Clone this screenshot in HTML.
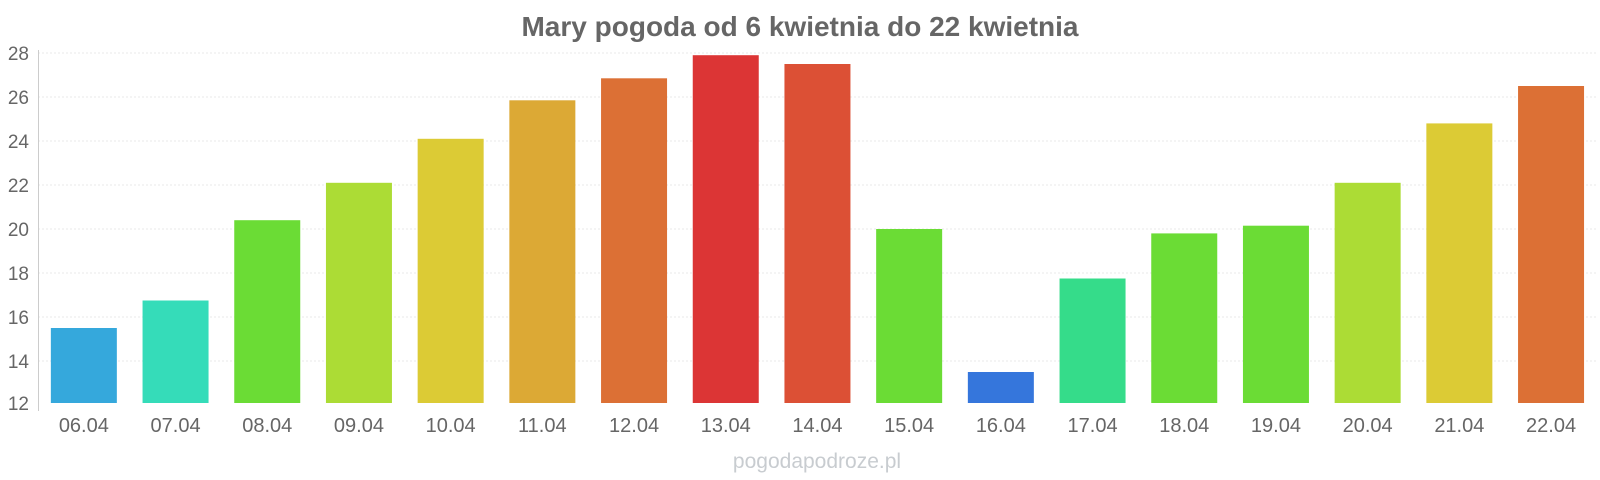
<!DOCTYPE html>
<html><head><meta charset="utf-8"><style>
html,body{margin:0;padding:0;background:#fff;}
svg{display:block;font-family:"Liberation Sans",Arial,sans-serif;}
</style></head><body>
<svg width="1600" height="480" viewBox="0 0 1600 480" xmlns="http://www.w3.org/2000/svg">
<text x="800" y="36" text-anchor="middle" font-size="28" font-weight="bold" fill="#666">Mary pogoda od 6 kwietnia do 22 kwietnia</text>
<g stroke="#e8e8e8" stroke-width="1" stroke-dasharray="2,2">
<line x1="38" x2="1597" y1="53" y2="53"/><line x1="38" x2="1597" y1="97" y2="97"/>
<line x1="38" x2="1597" y1="141" y2="141"/><line x1="38" x2="1597" y1="185" y2="185"/>
<line x1="38" x2="1597" y1="229" y2="229"/><line x1="38" x2="1597" y1="273" y2="273"/>
<line x1="38" x2="1597" y1="317" y2="317"/><line x1="38" x2="1597" y1="361" y2="361"/>
</g>
<g font-size="19" fill="#666" text-anchor="end">
<text x="29" y="60">28</text><text x="29" y="104">26</text><text x="29" y="148">24</text>
<text x="29" y="192">22</text><text x="29" y="236">20</text><text x="29" y="280">18</text>
<text x="29" y="324">16</text><text x="29" y="368">14</text><text x="29" y="410">12</text>
</g>
<g>
<rect x="50.85" y="328" width="66" height="75" fill="#35a8dc"/>
<rect x="142.55" y="300.5" width="66" height="102.5" fill="#35dcb9"/>
<rect x="234.25" y="220.2" width="66" height="182.8" fill="#6bdc35"/>
<rect x="325.95" y="182.8" width="66" height="220.2" fill="#acdc35"/>
<rect x="417.65" y="138.8" width="66" height="264.2" fill="#dccb35"/>
<rect x="509.35" y="100.3" width="66" height="302.7" fill="#dca935"/>
<rect x="601.05" y="78.3" width="66" height="324.7" fill="#dc7035"/>
<rect x="692.75" y="55.2" width="66" height="347.8" fill="#dc3535"/>
<rect x="784.45" y="64" width="66" height="339" fill="#dc5035"/>
<rect x="876.15" y="229" width="66" height="174" fill="#6bdc35"/>
<rect x="967.85" y="372" width="66" height="31" fill="#3576dc"/>
<rect x="1059.55" y="278.5" width="66" height="124.5" fill="#35dc8a"/>
<rect x="1151.25" y="233.4" width="66" height="169.6" fill="#6bdc35"/>
<rect x="1242.95" y="225.7" width="66" height="177.3" fill="#6bdc35"/>
<rect x="1334.65" y="182.8" width="66" height="220.2" fill="#acdc35"/>
<rect x="1426.35" y="123.4" width="66" height="279.6" fill="#dccb35"/>
<rect x="1518.05" y="86" width="66" height="317" fill="#dc7035"/>
</g>
<line x1="38.5" x2="38.5" y1="50" y2="411" stroke="#ccc"/>
<g font-size="20" fill="#666" text-anchor="middle">
<text x="83.85" y="432">06.04</text>
<text x="175.55" y="432">07.04</text>
<text x="267.25" y="432">08.04</text>
<text x="358.95" y="432">09.04</text>
<text x="450.65" y="432">10.04</text>
<text x="542.35" y="432">11.04</text>
<text x="634.05" y="432">12.04</text>
<text x="725.75" y="432">13.04</text>
<text x="817.45" y="432">14.04</text>
<text x="909.15" y="432">15.04</text>
<text x="1000.85" y="432">16.04</text>
<text x="1092.55" y="432">17.04</text>
<text x="1184.25" y="432">18.04</text>
<text x="1275.95" y="432">19.04</text>
<text x="1367.65" y="432">20.04</text>
<text x="1459.35" y="432">21.04</text>
<text x="1551.05" y="432">22.04</text>
</g>
<text x="817" y="468" text-anchor="middle" font-size="21" fill="#c8ccd0">pogodapodroze.pl</text>
</svg>
</body></html>
